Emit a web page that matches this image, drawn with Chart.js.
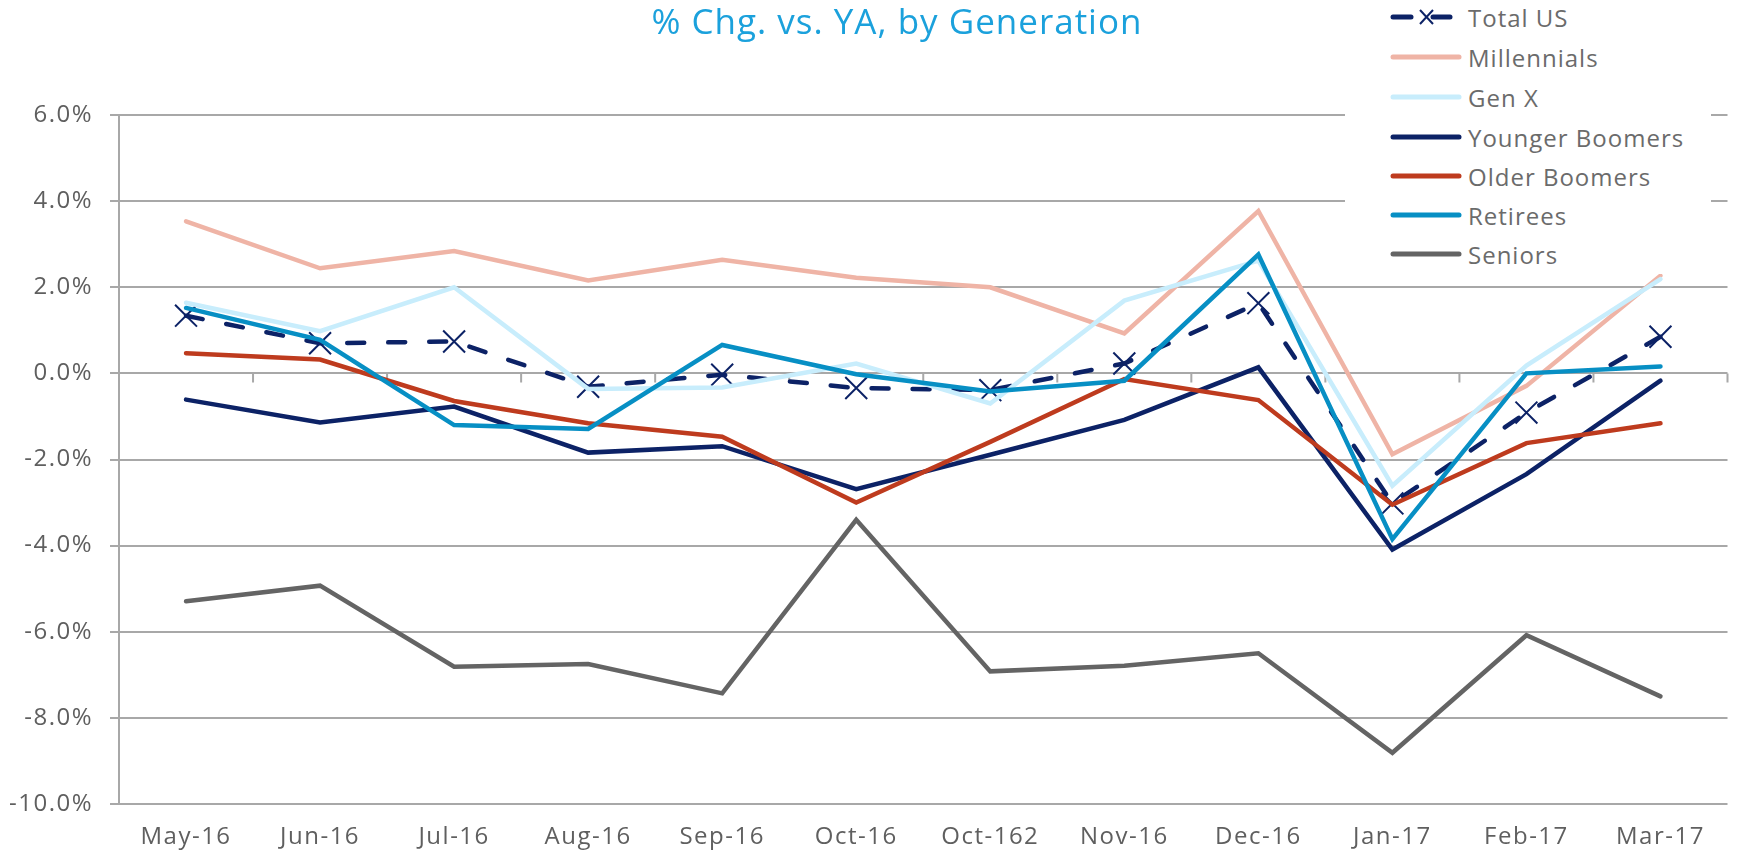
<!DOCTYPE html>
<html>
<head>
<meta charset="utf-8">
<script src="https://cdn.jsdelivr.net/npm/chart.js@4.4.1/dist/chart.umd.min.js"></script>
<style>
  html, body { margin: 0; padding: 0; background: #fff; }
  #wrap { position: relative; width: 1745px; height: 852px; font-family: "Open Sans", sans-serif; }
  #title {
    position: absolute; left: 0; top: 0; width: 1794px; text-align: center;
    font-size: 35px; letter-spacing: 1px; color: #1ba1dc; line-height: 42px;
  }
  #legend {
    position: absolute; left: 1345px; top: 0; width: 366px; height: 274px;
    background: #fff;
  }
  .item { position: absolute; left: 45px; height: 30px; display: flex; align-items: center; }
  .item span { margin-left: 6px; font-size: 24px; letter-spacing: 1px; color: #6b6b6b; }
</style>
</head>
<body>
<div id="wrap">
  <canvas id="chart" width="1745" height="852"></canvas>
  <div id="title">% Chg. vs. YA, by Generation</div>
  <div id="legend"></div>
</div>
<script>
// ---- data (percent change vs year ago) ----
const months = ["May-16", "Jun-16", "Jul-16", "Aug-16", "Sep-16", "Oct-16", "Oct-162", "Nov-16", "Dec-16", "Jan-17", "Feb-17", "Mar-17"];
const totalUS = [1.34, 0.70, 0.74, -0.31, -0.03, -0.34, -0.39, 0.23, 1.63, -3.02, -0.91, 0.85];
const millennials = [3.53, 2.44, 2.84, 2.16, 2.64, 2.22, 2.0, 0.93, 3.77, -1.88, -0.29, 2.27];
const genX = [1.64, 0.98, 2.0, -0.36, -0.33, 0.23, -0.70, 1.69, 2.62, -2.61, 0.18, 2.19];
const youngerBoomers = [-0.61, -1.14, -0.77, -1.84, -1.69, -2.69, -1.89, -1.08, 0.14, -4.09, -2.34, -0.17];
const olderBoomers = [0.47, 0.32, -0.64, -1.16, -1.47, -3.0, -1.59, -0.13, -0.62, -3.05, -1.62, -1.16];
const retirees = [1.52, 0.78, -1.20, -1.29, 0.66, -0.02, -0.42, -0.17, 2.76, -3.85, 0.0, 0.16];
const seniors = [-5.29, -4.93, -6.81, -6.75, -7.43, -3.40, -6.92, -6.79, -6.50, -8.81, -6.08, -7.50];

const seriesNames = ["Total US", "Millennials", "Gen X", "Younger Boomers", "Older Boomers", "Retirees", "Seniors"];
const seriesData = [totalUS, millennials, genX, youngerBoomers, olderBoomers, retirees, seniors];
const seriesColors = ["#0c2266", "#efb4a6", "#c8edfc", "#0c2266", "#be3b1e", "#078fc4", "#646464"];

const GRID = "#a8a8a8";
const TICK_FONT = { family: "'Open Sans', sans-serif", size: 24 };

const datasets = seriesNames.map((name, i) => {
  const ds = {
    label: name,
    data: seriesData[i],
    borderColor: seriesColors[i],
    backgroundColor: seriesColors[i],
    borderWidth: 4.5,
    borderCapStyle: "round",
    borderJoinStyle: "miter",
    tension: 0,
    pointRadius: 0,
    pointHoverRadius: 0,
    fill: false,
    order: seriesNames.length - i, // later series on top, like the original
  };
  if (i === 0) {
    ds.borderDash = [17, 24];
    ds.pointStyle = "crossRot";
    ds.pointRadius = 15.5;
    ds.pointBorderWidth = 2;
    ds.pointBorderColor = seriesColors[i];
  }
  return ds;
});

// wider tick lettering, closer to the original font
const spacing = {
  id: "spacing",
  beforeDraw(chart) { chart.ctx.letterSpacing = "1.5px"; },
};

// small tick marks hanging from the 0% line between categories
const zeroTicks = {
  id: "zeroTicks",
  beforeDatasetsDraw(chart) {
    const { ctx, scales } = chart;
    const x = scales.x, y = scales.y;
    const y0 = y.getPixelForValue(0);
    const half = (x.getPixelForValue(1) - x.getPixelForValue(0)) / 2;
    ctx.save();
    ctx.strokeStyle = GRID;
    ctx.lineWidth = 2;
    ctx.beginPath();
    for (let i = 0; i <= months.length; i++) {
      const px = x.getPixelForValue(0) - half + i * half * 2;
      ctx.moveTo(px, y0);
      ctx.lineTo(px, y0 + 9);
    }
    ctx.stroke();
    ctx.restore();
  },
};

new Chart(document.getElementById("chart"), {
  type: "line",
  data: { labels: months, datasets },
  options: {
    responsive: false,
    devicePixelRatio: 1,
    animation: false,
    layout: { padding: { top: 115, right: 7, left: 0, bottom: 0 } },
    plugins: {
      legend: { display: false },
      title: { display: false },
      tooltip: { enabled: false },
    },
    scales: {
      x: {
        offset: true,
        grid: { display: false, drawTicks: false },
        border: { display: false },
        ticks: { color: "#5f5f5f", font: TICK_FONT, padding: 19, maxRotation: 0, autoSkip: false },
        afterFit(scale) { scale.height = 48; },
      },
      y: {
        min: -10,
        max: 6,
        ticks: {
          stepSize: 2,
          color: "#5f5f5f",
          font: TICK_FONT,
          padding: 17,
          callback: (v) => v.toFixed(1) + "%",
        },
        grid: { color: GRID, lineWidth: 2, tickLength: 9 },
        border: { display: true, color: GRID, width: 2 },
        afterFit(scale) { scale.width = 119; },
      },
    },
  },
  plugins: [spacing, zeroTicks],
});

// ---- legend (html) ----
const legend = document.getElementById("legend");
const itemTops = [2, 42, 82, 122, 161, 200, 239];
seriesNames.forEach((name, i) => {
  const div = document.createElement("div");
  div.className = "item";
  div.style.top = itemTops[i] + "px";
  const c = seriesColors[i];
  let svg;
  if (i === 0) {
    svg = `<svg width="72" height="24"><line x1="3" y1="12" x2="21" y2="12" stroke="${c}" stroke-width="5" stroke-linecap="round"/>` +
      `<line x1="43" y1="12" x2="60" y2="12" stroke="${c}" stroke-width="5" stroke-linecap="round"/>` +
      `<line x1="30" y1="5" x2="43" y2="19" stroke="${c}" stroke-width="2"/><line x1="43" y1="5" x2="30" y2="19" stroke="${c}" stroke-width="2"/></svg>`;
  } else {
    svg = `<svg width="72" height="24"><line x1="3" y1="12" x2="69" y2="12" stroke="${c}" stroke-width="5" stroke-linecap="round"/></svg>`;
  }
  div.innerHTML = svg + `<span>${name}</span>`;
  legend.appendChild(div);
});
</script>
</body>
</html>
